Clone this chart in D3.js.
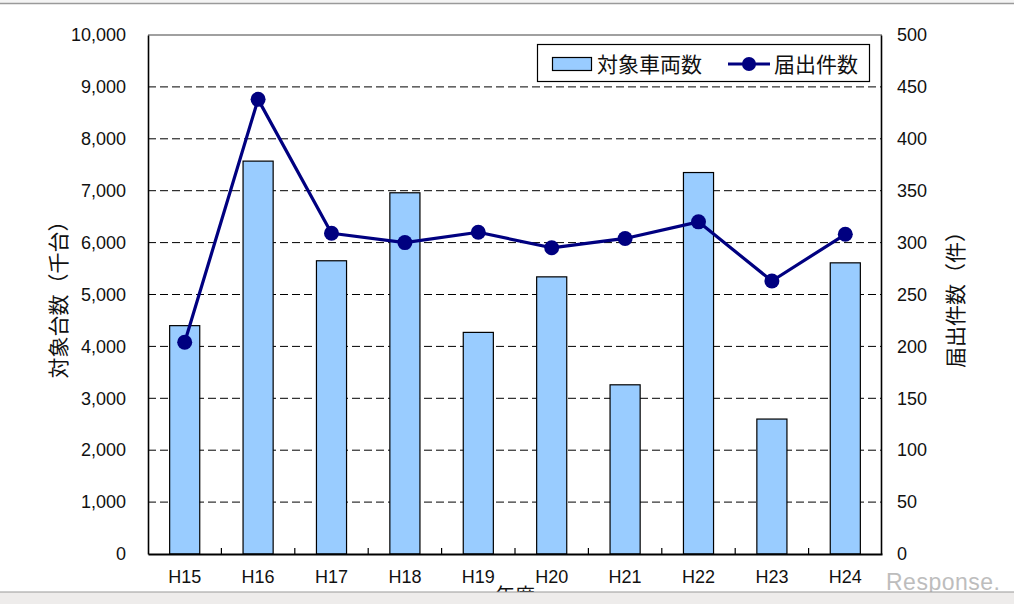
<!DOCTYPE html>
<html><head><meta charset="utf-8">
<script src="https://cdn.jsdelivr.net/npm/d3@7"></script>
<style>
html,body{margin:0;padding:0;background:#fff;}
svg{display:block;}
text{font-family:"Liberation Sans",Arial,"Noto Sans CJK JP",sans-serif;fill:#111;}
.jp{font-family:"Noto Sans CJK JP","Liberation Sans",sans-serif;}
</style></head>
<body>
<svg id="c" width="1014" height="604"></svg>
<script>
const categories = ["H15","H16","H17","H18","H19","H20","H21","H22","H23","H24"];
const vehicles = [4400,7570,5650,6960,4270,5340,3260,7350,2600,5610]; // 対象車両数 (千台)
const filings = [204,438,309,300,310,295,304,320,263,308];          // 届出件数 (件)
const leftTicks = [0,1000,2000,3000,4000,5000,6000,7000,8000,9000,10000];
const rightTicks = [0,50,100,150,200,250,300,350,400,450,500];

const svg = d3.select("#c");
const L = 148, R = 882, T = 35, B = 554;

// top strip
svg.append("rect").attr("x",0).attr("y",0).attr("width",1014).attr("height",4).attr("fill","#f4f4f4");
svg.append("line").attr("x1",0).attr("x2",1014).attr("y1",3.5).attr("y2",3.5).attr("stroke","#9a9a9a").attr("stroke-width",1.5);

const x = d3.scaleBand().domain(categories).range([L,R]).padding(0);
const yL = d3.scaleLinear().domain([0,10000]).range([B,T]);
const yR = d3.scaleLinear().domain([0,500]).range([B,T]);
const barW = x.bandwidth()*0.41;

// gridlines
svg.append("g").selectAll("line").data(leftTicks.filter(d=>d>0 && d<10000)).join("line")
  .attr("x1",L).attr("x2",R).attr("y1",d=>yL(d)).attr("y2",d=>yL(d))
  .attr("stroke","#000").attr("stroke-width",1).attr("stroke-dasharray","8,4");

// bars
svg.append("g").selectAll("rect").data(vehicles).join("rect")
  .attr("x",(d,i)=>x(categories[i])+x.bandwidth()/2-barW/2)
  .attr("y",d=>yL(d)).attr("width",barW).attr("height",d=>B-yL(d))
  .attr("fill","#99ccff").attr("stroke","#000").attr("stroke-width",1.2);

// frame
svg.append("line").attr("x1",L).attr("x2",R).attr("y1",T).attr("y2",T).attr("stroke","#808080").attr("stroke-width",1.5);

// left axis
const axL = d3.axisLeft(yL).tickValues(leftTicks).tickSize(0).tickPadding(22).tickFormat(d3.format(","));
const gL = svg.append("g").attr("transform",`translate(${L},0)`).call(axL);
gL.select(".domain").attr("stroke","#000").attr("stroke-width",1.6);
gL.selectAll("text").style("font-size","18px").attr("fill","#111");

// right axis
const axR = d3.axisRight(yR).tickValues(rightTicks).tickSize(0).tickPadding(16);
const gR = svg.append("g").attr("transform",`translate(${R-1},0)`).call(axR);
gR.select(".domain").attr("stroke","#000").attr("stroke-width",1.6);
gR.selectAll("text").style("font-size","18px").attr("fill","#111");

// bottom axis
const axB = d3.axisBottom(x).tickSize(0).tickPadding(16);
const gB = svg.append("g").attr("transform",`translate(0,${B})`).call(axB);
gB.select(".domain").attr("stroke","#000").attr("stroke-width",2);
gB.selectAll("text").style("font-size","18px").attr("fill","#111");
// inner boundary ticks
svg.append("g").selectAll("line").data(categories.slice(1)).join("line")
  .attr("x1",d=>x(d)).attr("x2",d=>x(d)).attr("y1",B).attr("y2",B-6)
  .attr("stroke","#000").attr("stroke-width",1.2);

// line series
const line = d3.line().x((d,i)=>x(categories[i])+x.bandwidth()/2).y(d=>yR(d));
svg.append("path").datum(filings).attr("d",line).attr("fill","none")
  .attr("stroke","#000080").attr("stroke-width",3.2).attr("stroke-linejoin","round");
svg.append("g").selectAll("circle").data(filings).join("circle")
  .attr("cx",(d,i)=>x(categories[i])+x.bandwidth()/2).attr("cy",d=>yR(d)).attr("r",7.5)
  .attr("fill","#000080");

// axis titles
svg.append("text").attr("class","jp").attr("transform",`translate(66,${(T+B)/2}) rotate(-90)`)
  .attr("text-anchor","middle").style("font-size","21px").text("対象台数（千台）");
svg.append("text").attr("class","jp").attr("transform",`translate(963,${(T+B)/2}) rotate(-90)`)
  .attr("text-anchor","middle").style("font-size","21px").text("届出件数（件）");
svg.append("text").attr("class","jp").attr("x",(L+R)/2).attr("y",603)
  .attr("text-anchor","middle").style("font-size","20px").text("年度");

// legend
const lg = svg.append("g");
lg.append("rect").attr("x",537.5).attr("y",44.5).attr("width",332).attr("height",37)
  .attr("fill","#fff").attr("stroke","#000").attr("stroke-width",1.2);
lg.append("rect").attr("x",552.5).attr("y",57.5).attr("width",39).attr("height",13)
  .attr("fill","#99ccff").attr("stroke","#000").attr("stroke-width",1.2);
lg.append("text").attr("class","jp").attr("x",597).attr("y",72).style("font-size","21px").text("対象車両数");
lg.append("line").attr("x1",728).attr("x2",770).attr("y1",64).attr("y2",64)
  .attr("stroke","#000080").attr("stroke-width",3.2);
lg.append("circle").attr("cx",749).attr("cy",64).attr("r",7).attr("fill","#000080");
lg.append("text").attr("class","jp").attr("x",774).attr("y",72).style("font-size","21px").text("届出件数");

// watermark
svg.append("text").attr("x",886).attr("y",590).style("font-size","23px")
  .style("letter-spacing","0.5px").style("fill","#bdbdbd").text("Response.");

// bottom band
svg.append("rect").attr("x",0).attr("y",592).attr("width",1014).attr("height",12).attr("fill","#eeeceb");
svg.append("line").attr("x1",0).attr("x2",1014).attr("y1",592).attr("y2",592).attr("stroke","#9a9a9a").attr("stroke-width",1.2);
</script>
</body></html>
